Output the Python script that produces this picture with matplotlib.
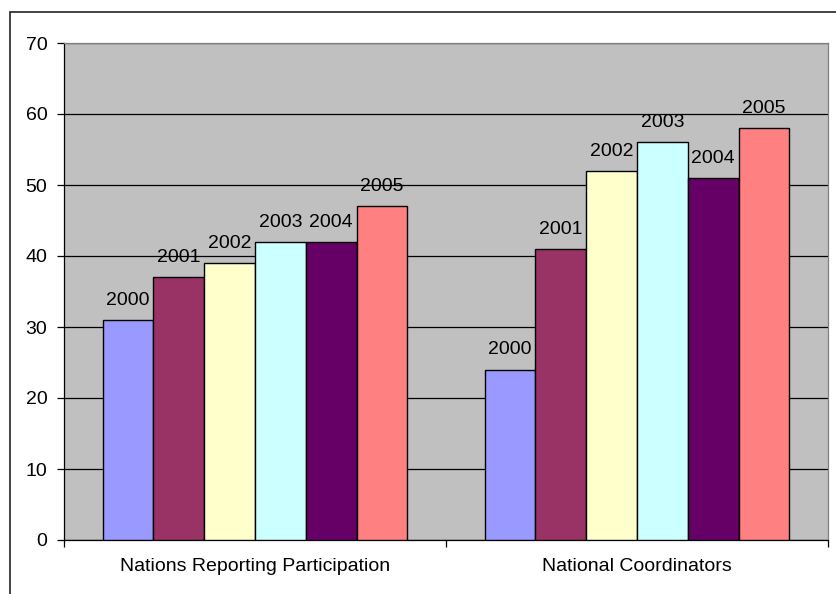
import numpy as np
import matplotlib.pyplot as plt
from matplotlib.patches import Rectangle

plt.rcParams['font.family'] = ['Liberation Sans', 'DejaVu Sans']

#categories and series
categories = ['Nations Reporting Participation', 'National Coordinators']
years = ['2000', '2001', '2002', '2003', '2004', '2005']
values = {
    '2000': [31, 24],
    '2001': [37, 41],
    '2002': [39, 52],
    '2003': [42, 56],
    '2004': [42, 51],
    '2005': [47, 58],
}
colors = ['#9999FF', '#993366', '#FFFFCC', '#CCFFFF', '#660066', '#FF8080']

fig = plt.figure(figsize=(8.37, 5.94), dpi=100)
ax = fig.add_axes([64/837, 54/594, 764/837, 497/594])

#outer chart frame, cut off at the right and bottom like the original
fig.patches.append(Rectangle((10/837, -0.1), 1.2, (594-12)/594 + 0.1,
                             transform=fig.transFigure, fill=False,
                             edgecolor='#222222', linewidth=1.2))

fs = 14
ax.set_facecolor('#C0C0C0')
x = np.arange(len(categories))
width = 0.133
for i, yr in enumerate(years):
    pos = x + (i - 2.5) * width
    bars = ax.bar(pos, values[yr], width, color=colors[i], edgecolor='black',
                  linewidth=1.0, zorder=3)
    for b in bars:
        ax.annotate(yr, (b.get_x() + b.get_width()/2, b.get_height()),
                    xytext=(0, 11), textcoords='offset points',
                    ha='center', va='baseline', fontsize=fs, zorder=4)

ax.set_ylim(0, 70)
ax.set_xlim(-0.5, 1.5)
ax.set_yticks(range(0, 71, 10))
ax.yaxis.grid(True, color='black', linewidth=0.9, zorder=1)
ax.set_axisbelow(True)

ax.set_xticks(x)
ax.set_xticklabels(categories)
ax.set_xticks([-0.5, 0.5, 1.5], minor=True)
ax.tick_params(axis='x', which='major', length=0, pad=13, labelsize=fs)
ax.tick_params(axis='x', which='minor', length=5, direction='out', width=0.9)
ax.tick_params(axis='y', length=5, direction='out', width=0.9, labelsize=fs, pad=7)

ax.spines['left'].set_color('black')
ax.spines['bottom'].set_color('black')
ax.spines['top'].set_color('#808080')
ax.spines['right'].set_color('#808080')
for s in ax.spines.values():
    s.set_linewidth(0.9)

plt.savefig('out.png', dpi=100)
